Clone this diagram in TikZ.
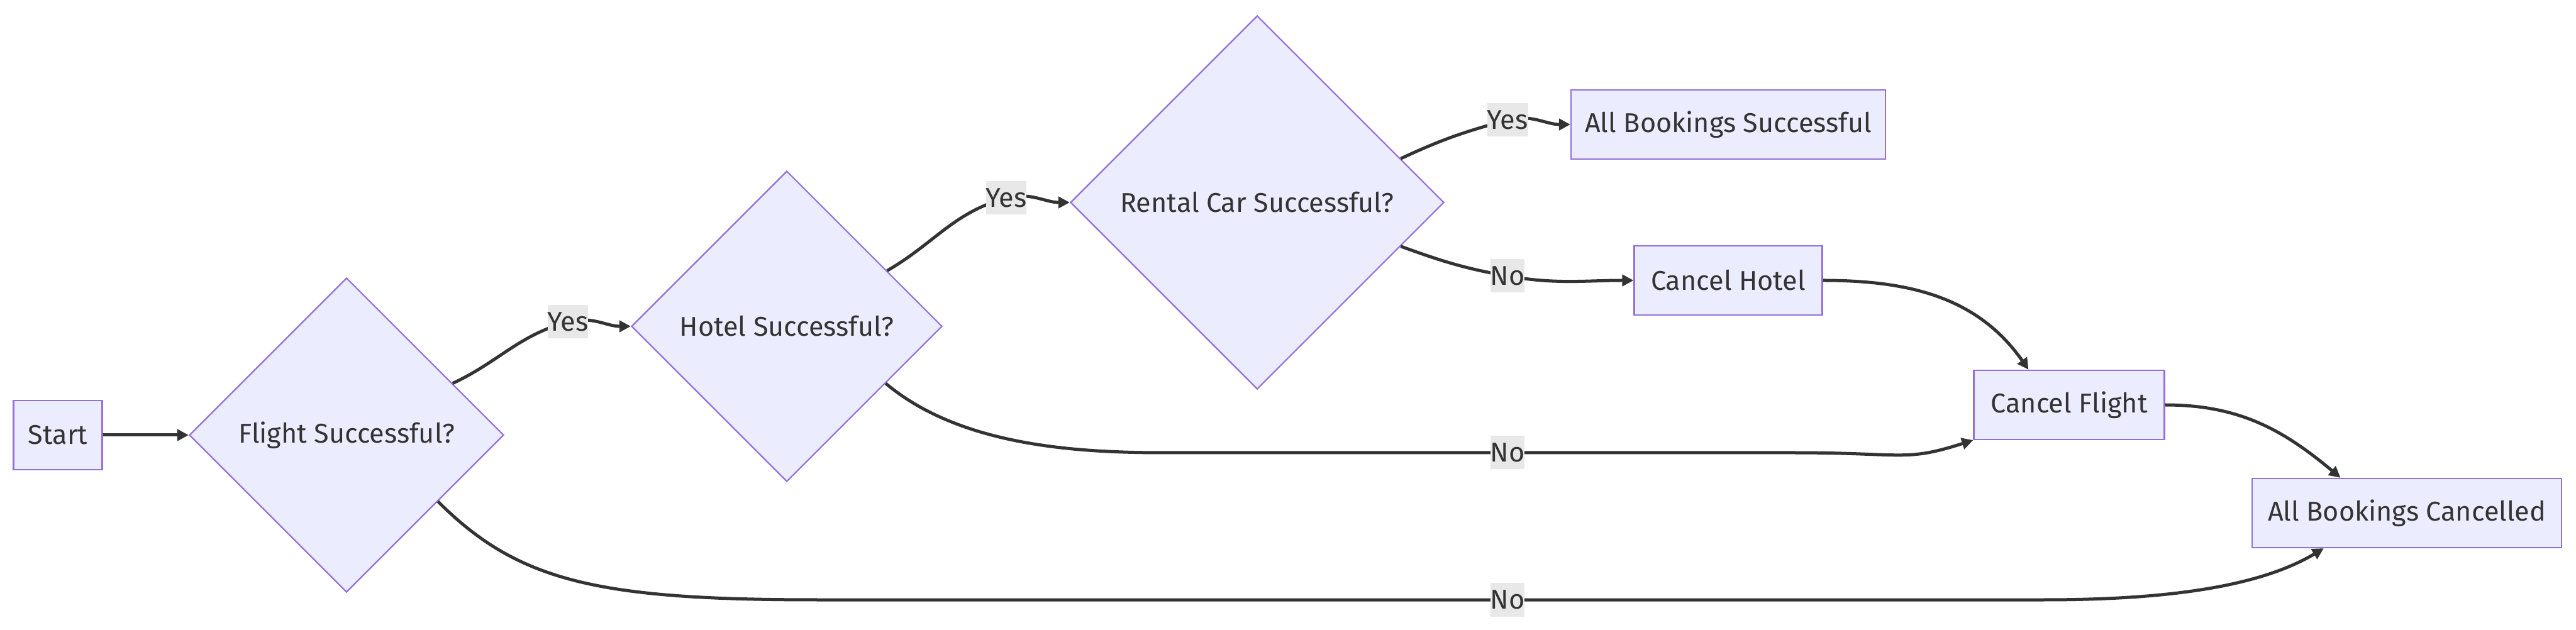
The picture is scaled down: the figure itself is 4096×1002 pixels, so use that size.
\documentclass[tikz,border=0pt]{standalone}
\usepackage{fontspec}
\setmainfont{Fira Sans}
\usetikzlibrary{shapes.geometric}
\usetikzlibrary{arrows.meta}

\definecolor{nodefill}{HTML}{ECECFF}
\definecolor{nodeline}{HTML}{9370DB}
\definecolor{edgeline}{HTML}{333333}
\definecolor{labelfill}{HTML}{E8E8E8}

\tikzset{
	box/.style={ draw=nodeline, fill=nodefill, line width=0.55pt, text=edgeline, minimum height=27.5pt, inner sep=0pt },
	decision/.style={ diamond, aspect=1, draw=nodeline, fill=nodefill, line width=0.55pt, text=edgeline, inner sep=0pt },
	edge/.style={ draw=edgeline, line width=1.25pt, -{Triangle[ length=4.5pt, width=4.5pt ]} },
	lbl/.style={ fill=labelfill, text=edgeline, inner sep=0pt, minimum height=13.25pt },
}

\begin{document}
\begin{tikzpicture}[ x=0.25pt, y=0.25pt, font=\fontsize{10.8pt}{13pt}\selectfont ]

	\useasboundingbox (0, 0) rectangle (4096, -1002);

	% boxes and decisions
	\node[ box, minimum width=35.25pt ] (start) at (92, -692) {Start};
	\node[ decision, minimum width=125pt, minimum height=125pt ] (flight) at (551, -692) {Flight Successful?};
	\node[ decision, minimum width=123.5pt, minimum height=123.5pt ] (hotel) at (1251, -519) {Hotel Successful?};
	\node[ decision, minimum width=148.5pt, minimum height=148.5pt ] (rental) at (1999, -322) {Rental Car Successful?};
	\node[ box, minimum width=125pt ] (allok) at (2748, -198) {All Bookings Successful};
	\node[ box, minimum width=74.75pt ] (cancelhotel) at (2748, -446) {Cancel Hotel};
	\node[ box, minimum width=75.75pt ] (cancelflight) at (3290, -644) {Cancel Flight};
	\node[ box, minimum width=123pt ] (allcancel) at (3827, -816) {All Bookings Cancelled};

	% label spots and bends
	\coordinate (yes1) at (903, -512);
	\coordinate (yes2) at (1600, -315);
	\coordinate (yes3) at (2397, -191);
	\coordinate (no1) at (2397, -439);
	\coordinate (no2) at (2397, -720);
	\coordinate (no3) at (2397, -954);
	\coordinate (bendhotelA) at (1850, -720);
	\coordinate (bendhotelB) at (2850, -720);
	\coordinate (bendflightA) at (1300, -954);
	\coordinate (bendflightB) at (3250, -954);

	\draw[ edge ] (start.east) -- (flight.west);
	\draw[ edge ] (flight.26) to[ out=25, in=195 ] (yes1) node[ lbl ] (yesflight) {Yes} to[ out=15, in=180 ] (hotel.west);
	\draw[ edge ] (hotel.29) to[ out=30, in=195 ] (yes2) node[ lbl ] (yeshotel) {Yes} to[ out=15, in=180 ] (rental.west);
	\draw[ edge ] (rental.17) to[ out=25, in=195 ] (yes3) node[ lbl ] (yesrental) {Yes} to[ out=15, in=180 ] (allok.west);
	\draw[ edge ] (rental.-17) to[ out=-20, in=170 ] (no1) node[ lbl ] (norental) {No} to[ out=-10, in=180 ] (cancelhotel.west);
	\draw[ edge ] (hotel.-30) .. controls +(-40:150) and +(-150, 0) .. (bendhotelA) -- (no2) node[ lbl ] (nohotel) {No} -- (bendhotelB) .. controls +(180, 0) and +(-110, -35) .. (cancelflight.south west);
	\draw[ edge ] (flight.-36) .. controls +(-45:180) and +(-350, 0) .. (bendflightA) -- (no3) node[ lbl ] (noflight) {No} -- (bendflightB) .. controls +(200, 0) and +(-100, -60) .. (allcancel.-157);
	\draw[ edge ] (cancelhotel.east) to[ out=0, in=125 ] (cancelflight.139);
	\draw[ edge ] (cancelflight.east) to[ out=0, in=140 ] (allcancel.152);

\end{tikzpicture}
\end{document}
